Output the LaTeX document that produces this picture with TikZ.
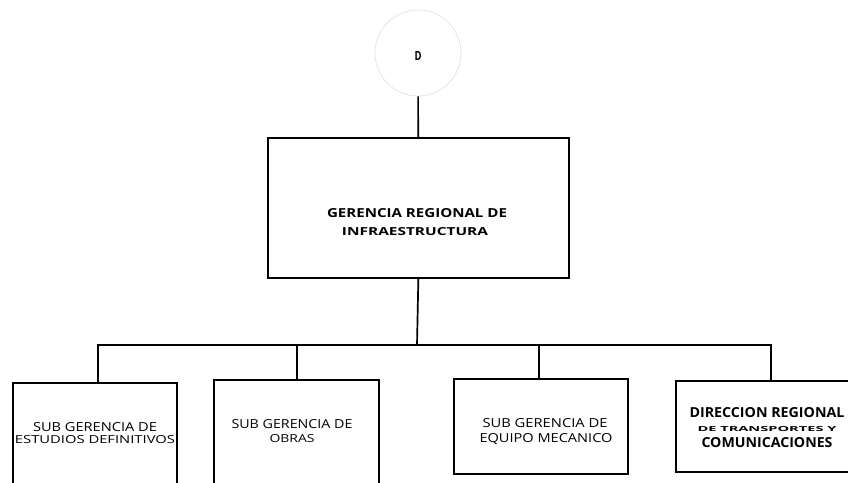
\documentclass[tikz,border=0pt]{standalone}
\usepackage{fontspec}
\setmainfont{Open Sans}
\newcommand{\fitline}[3]{\resizebox{#1pt}{#2pt}{#3}}
\begin{document}
\begin{tikzpicture}[x=1pt,y=-1pt,
  box/.style={draw=black,line width=1.7pt,inner sep=0pt,anchor=north west},
  conn/.style={draw=black,line width=1.7pt},
  ln/.style={inner sep=0pt,anchor=base},
  bln/.style={inner sep=0pt,anchor=base,font=\bfseries}]
\useasboundingbox (0,0) rectangle (848,482);
\clip (0,0) rectangle (848,482);
% top circle
\node[circle,draw=black!10,line width=0.8pt,minimum size=86pt,inner sep=0pt] (top) at (418,53) {};
\node[bln] (topt) at (418,60) {\fitline{7}{9}{D}};
% main box
\node[box,minimum width=301pt,minimum height=140pt] (main) at (267,137) {};
\node[bln] (m1) at (417,217) {\fitline{180}{9}{GERENCIA REGIONAL DE}};
\node[bln] (m2) at (415,235) {\fitline{146}{8}{INFRAESTRUCTURA}};
% children
\node[box,minimum width=164pt,minimum height=120pt] (b1) at (12,382) {};
\node[box,minimum width=165pt,minimum height=120pt] (b2) at (213,379) {};
\node[box,minimum width=174pt,minimum height=95pt] (b3) at (453,378) {};
\node[box,minimum width=190pt,minimum height=91pt] (b4) at (675,380) {};
\node[ln] (t1a) at (95,431) {\fitline{124}{9}{SUB GERENCIA DE}};
\node[ln] (t1b) at (95,443) {\fitline{160}{8}{ESTUDIOS DEFINITIVOS}};
\node[ln] (t2a) at (292,428) {\fitline{121}{9}{SUB GERENCIA DE}};
\node[ln] (t2b) at (292,442) {\fitline{45}{8}{OBRAS}};
\node[ln] (t3a) at (545,427) {\fitline{125}{9}{SUB GERENCIA DE}};
\node[ln] (t3b) at (546,442) {\fitline{133}{9}{EQUIPO MECANICO}};
\node[bln] (t4a) at (767,417) {\fitline{155}{10}{DIRECCION REGIONAL}};
\node[bln] (t4b) at (767,431) {\fitline{139}{5}{DE TRANSPORTES Y}};
\node[bln] (t4c) at (767,447) {\fitline{131}{10}{COMUNICACIONES}};
% connectors
\coordinate (bus) at (417,345);
\draw[conn] (top) -- (main);
\draw[conn] (main.south) -- (bus);
\draw[conn] ([xshift=3pt]b1.north) -- ([xshift=3pt]b1.north |- bus) -- (b4.north |- bus) -- (b4.north);
\draw[conn] ([xshift=0.5pt]b2.north) -- ([xshift=0.5pt]b2.north |- bus);
\draw[conn] ([xshift=-2pt]b3.north) -- ([xshift=-2pt]b3.north |- bus);
\end{tikzpicture}
\end{document}
